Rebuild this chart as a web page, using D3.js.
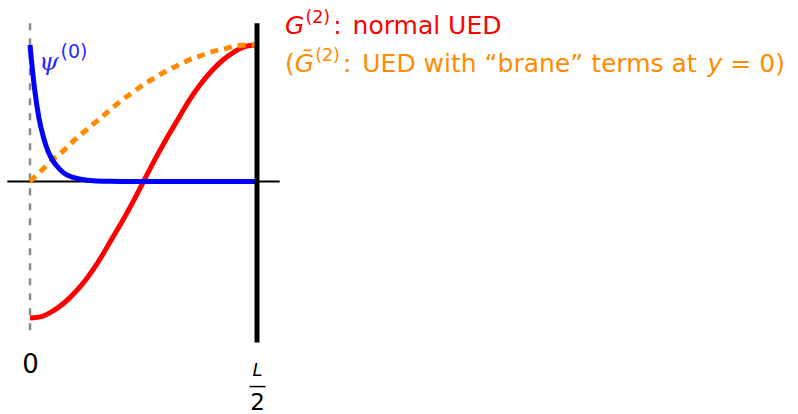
<!DOCTYPE html>
<html>
<head>
<meta charset="utf-8">
<script src="https://cdn.jsdelivr.net/npm/d3@7"></script>
<style>
  html, body { margin: 0; padding: 0; background: #fff; }
  svg { display: block; }
</style>
</head>
<body>
<svg id="chart" width="798" height="414"></svg>
<script>
// Positions along the bulk, as a fraction of L/2
const positions = [0, 0.05, 0.10, 0.15, 0.20, 0.25, 0.30, 0.35, 0.40, 0.45, 0.50,
                   0.55, 0.60, 0.65, 0.70, 0.75, 0.80, 0.85, 0.90, 0.95, 1.00];
// G^(2) profile, normal UED
const g2Values = [-1.00, -0.99, -0.95, -0.89, -0.81, -0.71, -0.59, -0.45, -0.31, -0.16, 0.00,
                  0.16, 0.31, 0.45, 0.59, 0.71, 0.81, 0.89, 0.95, 0.99, 1.00];
// G-tilde^(2) profile, UED with brane terms at y = 0
const g2TildeValues = [0.00, 0.08, 0.16, 0.23, 0.31, 0.38, 0.45, 0.52, 0.59, 0.65, 0.71,
                       0.76, 0.81, 0.85, 0.89, 0.92, 0.95, 0.97, 0.99, 1.00, 1.00];
// psi^(0) zero mode, localised at y = 0
const psiPositions = [0, 0.02, 0.04, 0.06, 0.08, 0.10, 0.12, 0.14, 0.16, 0.19, 0.23, 0.28, 0.35, 0.45, 1.00];
const psiValues    = [1.00, 0.68, 0.46, 0.32, 0.22, 0.155, 0.11, 0.075, 0.05, 0.03, 0.015, 0.006, 0.002, 0.00, 0.00];
// Axis ticks
const tickValues = [0, 1];
const tickLabels = ["0", "L/2"];

const svg = d3.select("#chart");
const x = d3.scaleLinear().domain([0, 1]).range([30, 257]);
const y = d3.scaleLinear().domain([-1, 1]).range([318, 45]);

const sans = "'DejaVu Sans', 'Open Sans', sans-serif";

// dashed guide at y = 0
svg.append("line")
  .attr("x1", x(0)).attr("x2", x(0))
  .attr("y1", y(1.16)).attr("y2", y(-1.125))
  .attr("stroke", "#8a8a8a").attr("stroke-width", 2.5)
  .attr("stroke-dasharray", "7 8");

// horizontal axis
svg.append("line")
  .attr("x1", x(-0.1)).attr("x2", x(1.1))
  .attr("y1", y(0)).attr("y2", y(0))
  .attr("stroke", "#000").attr("stroke-width", 2);

const line = d3.line().x(d => x(d[0])).y(d => y(d[1])).curve(d3.curveMonotoneX);

svg.append("path")
  .datum(positions.map((p, i) => [p, g2Values[i]]))
  .attr("d", line).attr("fill", "none")
  .attr("stroke", "#ff0000").attr("stroke-width", 5);

svg.append("path")
  .datum(positions.map((p, i) => [p, g2TildeValues[i]]))
  .attr("d", line).attr("fill", "none")
  .attr("stroke", "#ff8c00").attr("stroke-width", 5)
  .attr("stroke-dasharray", "8 6");

svg.append("path")
  .datum(psiPositions.map((p, i) => [p, psiValues[i]]))
  .attr("d", line).attr("fill", "none")
  .attr("stroke", "#0000ff").attr("stroke-width", 5);

// brane at y = L/2
svg.append("line")
  .attr("x1", x(1)).attr("x2", x(1))
  .attr("y1", y(1.16)).attr("y2", y(-1.18))
  .attr("stroke", "#000").attr("stroke-width", 5);

// tick labels
const axis = d3.axisBottom(x).tickValues(tickValues).tickSize(0).tickFormat(() => "");
const ag = svg.append("g").attr("transform", `translate(0,${y(-1.18)})`).call(axis);
ag.select(".domain").remove();
ag.selectAll(".tick").each(function(d, i) {
  const g = d3.select(this);
  g.select("text").remove();
  const lab = tickLabels[i];
  if (lab.includes("/")) {
    const [num, den] = lab.split("/");
    g.append("text").attr("y", 33).attr("text-anchor", "middle")
      .attr("font-family", sans).attr("font-style", "italic").attr("font-size", 18)
      .attr("fill", "#000").text(num);
    g.append("line").attr("x1", -8).attr("x2", 8).attr("y1", 44).attr("y2", 44)
      .attr("stroke", "#000").attr("stroke-width", 1.5);
    g.append("text").attr("y", 67).attr("text-anchor", "middle")
      .attr("font-family", sans).attr("font-size", 23)
      .attr("fill", "#000").text(den);
  } else {
    g.append("text").attr("y", 30).attr("text-anchor", "middle")
      .attr("font-family", sans).attr("font-size", 26)
      .attr("fill", "#000").text(lab);
  }
});

// psi^(0) label
const psiLab = svg.append("text").attr("x", 39).attr("y", 70).attr("fill", "#2a2aff");
psiLab.append("tspan").attr("font-family", "'DejaVu Serif', serif").attr("font-style", "italic")
  .attr("font-size", 25).text("\u03C8");
psiLab.append("tspan").attr("font-family", sans).attr("font-size", 19).attr("dx", 2).attr("dy", -12).text("(0)");

// legend text
const fs = 25, sup = 17.5;
const t1 = svg.append("text").attr("x", 285).attr("y", 34)
  .attr("font-family", sans).attr("font-size", fs).attr("fill", "#ff0000");
t1.append("tspan").attr("font-style", "italic").text("G");
t1.append("tspan").attr("font-size", sup).attr("dx", 1).attr("dy", -11).text("(2)");
t1.append("tspan").attr("dx", 3).attr("dy", 11).text(": ");
t1.append("tspan").attr("dx", 3).text("normal UED");

const t2 = svg.append("text").attr("x", 285).attr("y", 72)
  .attr("font-family", sans).attr("font-size", fs).attr("fill", "#ff8c00");
t2.append("tspan").text("(");
t2.append("tspan").attr("font-style", "italic").text("G\u0303");
t2.append("tspan").attr("font-size", sup).attr("dx", 1).attr("dy", -11).text("(2)");
t2.append("tspan").attr("dx", 3).attr("dy", 11).text(": ");
t2.append("tspan").attr("dx", 3).text("UED with \u201Cbrane\u201D terms at ");
t2.append("tspan").attr("font-style", "italic").attr("dx", 3).text("y");
t2.append("tspan").attr("dx", 8).text("=");
t2.append("tspan").attr("dx", 8).text("0)");
</script>
</body>
</html>
